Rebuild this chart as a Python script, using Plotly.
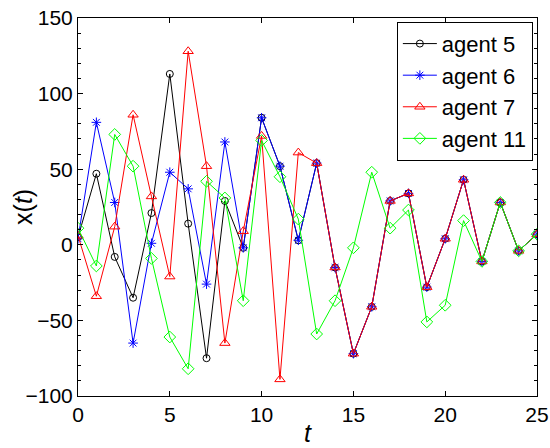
import plotly.graph_objects as go

t = list(range(26))
agent5 = [5, 47, -8, -35, 21, 113, 14, -75, 29, -2, 84, 52, 3, 54, -15, -72, -41, 29, 34, -28, 4, 43, -11, 28, -4, 7]
agent6 = [4, 81, 28, -65, 1, 48, 37, -26, 68, -2, 84, 52, 3, 54, -15, -72, -41, 29, 34, -28, 4, 43, -11, 28, -4, 7]
agent7 = [6, -34, 12, 86, 32, -21, 128, 52, -65, 9, 72, -89, 61, 54, -15, -72, -41, 29, 34, -28, 4, 43, -11, 28, -4, 7]
agent11 = [11, -14, 73, 52, -9, -61, -82, 42, 31, -37, 69, 45, 17, -59, -37, -2, 48, 11, 23, -51, -40, 16, -11, 28, -4, 7]
x_ticks = [0, 5, 10, 15, 20, 25]
y_ticks = [-100, -50, 0, 50, 100, 150]

series = [
    ("agent 5", agent5, "black", "circle-open", 7),
    ("agent 6", agent6, "blue", "asterisk-open", 8),
    ("agent 7", agent7, "red", "triangle-up-open", 9),
    ("agent 11", agent11, "#00ff00", "diamond-open", 9),
]

fig = go.Figure()
for name, vals, col, sym, sz in series:
    fig.add_trace(go.Scatter(
        x=t, y=vals, name=name, mode="lines+markers",
        line=dict(color=col, width=1),
        marker=dict(symbol=sym, size=sz, color=col, line=dict(color=col, width=1)),
    ))

fig.update_layout(
    width=550, height=448,
    margin=dict(l=78, r=13, t=18, b=52, autoexpand=False),
    paper_bgcolor="white", plot_bgcolor="white",
    font=dict(family="Liberation Sans, Arial, sans-serif", size=21, color="black"),
    showlegend=True,
    legend=dict(x=0.991, y=0.99, xanchor="right", yanchor="top",
                bordercolor="black", borderwidth=1, bgcolor="white",
                font=dict(size=22), tracegroupgap=0, itemwidth=34),
    annotations=[
        dict(text="<i>t</i>", xref="paper", yref="paper", x=0.5, y=-0.098,
             xanchor="center", yanchor="middle", showarrow=False, font=dict(size=25)),
        dict(text="x(<i>t</i>)", xref="paper", yref="paper", x=-0.12, y=0.5,
             xanchor="center", yanchor="middle", showarrow=False, textangle=-90,
             font=dict(size=25)),
    ],
)
fig.update_xaxes(
    range=[0, 25], tickvals=x_ticks, automargin=False,
    ticks="inside", ticklen=5, tickcolor="black",
    showline=True, linecolor="black", linewidth=1, mirror="ticks",
    showgrid=False, zeroline=False,
)
fig.update_yaxes(
    range=[-100, 150], tickvals=y_ticks, automargin=False,
    ticks="inside", ticklen=5, tickcolor="black",
    minor=dict(dtick=10, ticks="inside", ticklen=3, tickcolor="black"),
    showline=True, linecolor="black", linewidth=1, mirror="ticks",
    showgrid=False, zeroline=False,
)

fig.write_html(
    "out.html",
    config={"displayModeBar": False},
    post_script="document.body.style.margin='0';document.body.style.overflow='hidden';",
)
